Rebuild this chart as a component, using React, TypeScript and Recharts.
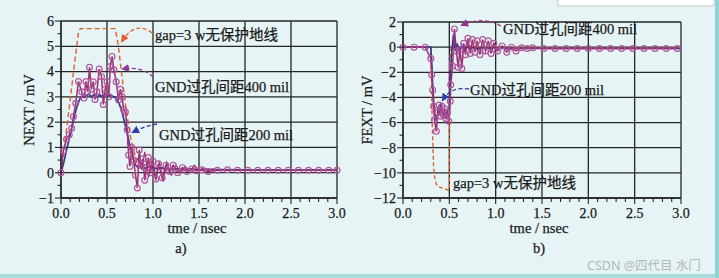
import React from 'react';
import { LineChart, Line, XAxis, YAxis, CartesianGrid } from 'recharts';

// ---------- NEXT (near-end crosstalk), mV vs ns ----------
const nextGapT = [0, 0.05, 0.1, 0.15, 0.19, 0.21, 0.59, 0.62, 0.66, 0.7, 0.75, 0.8, 0.83, 0.86, 0.9, 0.95, 1.0, 1.1, 1.3, 1.6, 2.0, 3.0];
const nextGapV = [0, 1.4, 2.9, 4.4, 5.55, 5.7, 5.7, 5.1, 3.9, 2.7, 1.5, 0.75, 0.25, 0.3, 0.35, 0.25, 0.2, 0.15, 0.12, 0.1, 0.1, 0.1];

const next200T = [0, 0.03, 0.06, 0.09, 0.12, 0.15, 0.18, 0.21, 0.24, 0.27, 0.3, 0.33, 0.36, 0.39, 0.42, 0.45, 0.48, 0.51, 0.54, 0.57, 0.6, 0.63, 0.66, 0.69, 0.72, 0.75, 0.78, 0.81, 0.84, 0.88, 0.92, 0.96, 1.0, 1.05, 1.1, 1.15, 1.2, 1.3, 1.4, 1.5, 1.7, 2.0, 2.5, 3.0];
const next200V = [0, 0.4, 0.9, 1.35, 1.8, 2.3, 2.7, 2.95, 3.05, 3.0, 3.12, 3.0, 3.1, 2.98, 3.08, 3.0, 3.1, 3.02, 3.08, 3.0, 2.95, 2.75, 2.45, 2.0, 1.55, 1.05, 0.6, 0.3, 0.2, 0.22, 0.18, 0.25, 0.2, 0.15, 0.2, 0.14, 0.17, 0.13, 0.14, 0.12, 0.12, 0.11, 0.1, 0.1];

const next400T = [0, 0.025, 0.06, 0.09, 0.115, 0.135, 0.16, 0.19, 0.225, 0.25, 0.27, 0.29, 0.31, 0.33, 0.35, 0.37, 0.39, 0.415, 0.44, 0.46, 0.48, 0.5, 0.52, 0.535, 0.555, 0.575, 0.6, 0.625, 0.645, 0.665, 0.68, 0.7, 0.72, 0.735, 0.75, 0.77, 0.79, 0.81, 0.83, 0.85, 0.87, 0.89, 0.91, 0.93, 0.95, 0.97, 1.0, 1.03, 1.06, 1.1, 1.14, 1.18, 1.22, 1.27, 1.32, 1.37, 1.42, 1.47, 1.53, 1.6, 1.7, 1.81, 1.92, 2.03, 2.14, 2.25, 2.36, 2.47, 2.58, 2.69, 2.8, 2.91, 3.0];
const next400V = [0, 0.86, 1.32, 1.5, 1.76, 2.22, 2.75, 3.61, 3.2, 2.95, 3.61, 3.2, 4.17, 3.3, 3.6, 2.9, 3.2, 4.1, 3.8, 2.7, 3.3, 3.6, 3.0, 4.2, 4.6, 4.07, 3.6, 2.88, 3.3, 3.0, 2.5, 2.4, 1.7, 0.7, 0.25, 1.0, 0.5, -0.1, -0.6, 0.9, 0.3, 0.55, -0.3, 0.2, 0.6, 0.0, 0.45, -0.25, 0.35, -0.2, 0.3, 0.05, 0.3, 0.0, 0.2, 0.05, 0.15, 0.08, 0.12, 0.05, 0.1, 0.12, 0.1, 0.1, 0.1, 0.1, 0.1, 0.1, 0.1, 0.1, 0.1, 0.1, 0.1];

const next400bT = [0.72, 0.76, 0.8, 0.84, 0.88, 0.91, 0.95, 0.99, 1.03, 1.07, 1.11, 1.15, 1.2, 1.25, 1.3, 1.35, 1.4, 1.45, 1.5, 1.55, 1.6, 1.65, 1.7, 1.8];
const next400bV = [1.2, 0.9, 0.3, 0.6, 0.1, 0.83, -0.2, 0.5, -0.3, 0.45, -0.35, 0.4, -0.1, 0.3, 0.0, 0.25, 0.05, 0.3, 0.08, 0.2, 0.1, 0.15, 0.1, 0.12];

// ---------- FEXT (far-end crosstalk), mV vs ns ----------
const fextGapT = [0, 0.3, 0.305, 0.315, 0.33, 0.345, 0.36, 0.38, 0.42, 0.46, 0.49, 0.5, 0.505, 0.52, 0.56, 0.6, 0.7, 0.8, 1.0, 1.5, 3.0];
const fextGapV = [0, 0, -1.5, -6, -9.5, -10.5, -10.9, -11.1, -11.2, -11.3, -11.4, -11.3, -1.0, 0.0, 0.2, -0.2, 0.1, 0, 0, -0.05, -0.05];

const fext200T = [0, 0.3, 0.31, 0.32, 0.335, 0.35, 0.365, 0.38, 0.395, 0.41, 0.425, 0.44, 0.455, 0.47, 0.485, 0.5, 0.51, 0.525, 0.545, 0.565, 0.585, 0.61, 0.635, 0.66, 0.69, 0.72, 0.76, 0.8, 0.85, 0.9, 1.0, 1.2, 1.5, 2.0, 3.0];
const fext200V = [0, 0, -1.2, -3.0, -4.8, -5.6, -5.9, -4.8, -5.4, -4.5, -5.3, -5.7, -5.0, -5.2, -5.0, -4.9, -2.5, -0.5, 1.0, -0.3, 0.3, -0.4, 0.15, -0.3, 0.1, -0.2, 0.0, -0.15, -0.05, -0.1, -0.05, -0.1, -0.1, -0.1, -0.1];

const fext400T = [0, 0.12, 0.24, 0.3, 0.31, 0.32, 0.33, 0.34, 0.36, 0.375, 0.39, 0.405, 0.42, 0.435, 0.45, 0.465, 0.48, 0.495, 0.51, 0.515, 0.535, 0.555, 0.575, 0.595, 0.615, 0.635, 0.655, 0.675, 0.7, 0.725, 0.75, 0.775, 0.8, 0.83, 0.86, 0.89, 0.92, 0.95, 0.98, 1.02, 1.07, 1.12, 1.17, 1.22, 1.28, 1.34, 1.4, 1.52, 1.64, 1.76, 1.88, 2.0, 2.12, 2.24, 2.36, 2.48, 2.6, 2.72, 2.84, 2.96];
const fext400V = [0, 0, 0, -0.9, -2.2, -3.4, -4.7, -5.8, -6.7, -5.2, -4.6, -5.5, -4.7, -5.4, -4.9, -5.7, -5.2, -5.9, -4.3, -3.0, -1.5, 1.45, -0.3, -1.6, -0.2, -1.7, 0.3, -0.6, 0.7, -0.5, 0.6, -0.4, 0.5, -0.6, 0.6, -0.3, 0.5, -0.5, 0.3, -0.3, 0.1, -0.4, 0.0, -0.3, -0.05, -0.1, -0.05, -0.1, -0.1, -0.1, -0.1, -0.1, -0.1, -0.1, -0.1, -0.1, -0.1, -0.1, -0.1, -0.1];

// ---------- axes ----------
const xMajorTicks = [0, 0.5, 1.0, 1.5, 2.0, 2.5, 3.0];
const xMinorTicks = Array.from({ length: 31 }, (_, i) => i / 10);
const nextYLabels = [-1, 0, 1, 2, 3, 4, 5, 6];
const nextYTicks = Array.from({ length: 15 }, (_, i) => -1 + i * 0.5);
const fextYLabels = [-12, -10, -8, -6, -4, -2, 0, 2];
const fextYTicks = Array.from({ length: 15 }, (_, i) => -12 + i);

const BG = '#e6f4f6';
const AXIS = '#262626';
const ORANGE = '#e0602c';
const BLUE = '#2c3a96';
const MAGENTA = '#9c2f72';
const CIRCLE = '#b0559a';
const SERIF = '"Liberation Serif", "Noto Sans CJK SC", serif';
const TEXT = '#1a1a1a';

const pts = (t: number[], v: number[]) => t.map((x, i) => ({ t: x, v: v[i] }));

const fmtNum = (n: number) => (n < 0 ? '\u2212' + Math.abs(n) : String(n));

const tickText = { fontFamily: SERIF, fontSize: 14, fill: TEXT, stroke: TEXT, strokeWidth: 0.25 } as const;

const XTick = (props: any) => {
  const { x, y, payload } = props;
  const val = payload.value as number;
  const major = xMajorTicks.some((m) => Math.abs(m - val) < 1e-6);
  return (
    <g>
      <line x1={x} y1={y} x2={x} y2={y + (major ? 6 : 4)} stroke={AXIS} strokeWidth={1.1} />
      {major && (
        <text x={x} y={y + 20} textAnchor="middle" {...tickText}>
          {val.toFixed(1)}
        </text>
      )}
    </g>
  );
};

const makeYTick = (labels: number[]) => (props: any) => {
  const { x, y, payload } = props;
  const val = payload.value as number;
  const major = labels.some((m) => Math.abs(m - val) < 1e-6);
  return (
    <g>
      <line x1={x} y1={y} x2={x - (major ? 6 : 3.5)} y2={y} stroke={AXIS} strokeWidth={1.1} />
      {major && (
        <text x={x - 7} y={y + 4.8} textAnchor="end" {...tickText}>
          {fmtNum(val)}
        </text>
      )}
    </g>
  );
};

const NextYTick = makeYTick(nextYLabels);
const FextYTick = makeYTick(fextYLabels);

const circleDot = { r: 2.9, stroke: CIRCLE, strokeWidth: 1.2, fill: 'none' };

function NextChart() {
  return (
    <LineChart width={360} height={278} margin={{ top: 21, right: 23, bottom: 0, left: 21 }}>
      <CartesianGrid
        stroke={AXIS}
        strokeWidth={1.3}
        strokeOpacity={1}
        verticalValues={xMajorTicks}
        horizontalValues={nextYLabels}
        fill="none"
      />
      <XAxis
        type="number"
        dataKey="t"
        domain={[0, 3]}
        ticks={xMinorTicks}
        interval={0}
        height={80}
        tickSize={0}
        tickMargin={0}
        tickLine={false}
        axisLine={{ stroke: AXIS, strokeWidth: 1.3 }}
        tick={<XTick />}
        allowDuplicatedCategory={false}
      />
      <YAxis
        type="number"
        domain={[-1, 6]}
        ticks={nextYTicks}
        interval={0}
        width={40}
        tickSize={0}
        tickMargin={0}
        tickLine={false}
        axisLine={{ stroke: AXIS, strokeWidth: 1.3 }}
        tick={<NextYTick />}
      />
      <Line data={pts(nextGapT, nextGapV)} dataKey="v" stroke={ORANGE} strokeWidth={1.4} strokeDasharray="5 3" dot={false} isAnimationActive={false} />
      <Line data={pts(next200T, next200V)} dataKey="v" stroke={BLUE} strokeWidth={1.7} dot={false} isAnimationActive={false} />
      <Line data={pts(next400bT, next400bV)} dataKey="v" stroke={MAGENTA} strokeWidth={1.2} dot={false} isAnimationActive={false} />
      <Line data={pts(next400T, next400V)} dataKey="v" stroke={MAGENTA} strokeWidth={1.5} dot={circleDot} isAnimationActive={false} />
    </LineChart>
  );
}

function FextChart() {
  return (
    <LineChart width={359} height={278} margin={{ top: 22, right: 38, bottom: 0, left: 3 }}>
      <CartesianGrid
        stroke={AXIS}
        strokeWidth={1.3}
        strokeOpacity={1}
        verticalValues={xMajorTicks}
        horizontalValues={fextYLabels}
        fill="none"
      />
      <XAxis
        type="number"
        dataKey="t"
        domain={[0, 3]}
        ticks={xMinorTicks}
        interval={0}
        height={80}
        tickSize={0}
        tickMargin={0}
        tickLine={false}
        axisLine={{ stroke: AXIS, strokeWidth: 1.3 }}
        tick={<XTick />}
        allowDuplicatedCategory={false}
      />
      <YAxis
        type="number"
        domain={[-12, 2]}
        ticks={fextYTicks}
        interval={0}
        width={40}
        tickSize={0}
        tickMargin={0}
        tickLine={false}
        axisLine={{ stroke: AXIS, strokeWidth: 1.3 }}
        tick={<FextYTick />}
      />
      <Line data={pts(fextGapT, fextGapV)} dataKey="v" stroke={ORANGE} strokeWidth={1.4} strokeDasharray="4 2.5" dot={false} isAnimationActive={false} />
      <Line data={pts(fext200T, fext200V)} dataKey="v" stroke={BLUE} strokeWidth={1.7} dot={false} isAnimationActive={false} />
      <Line data={pts(fext400T, fext400V)} dataKey="v" stroke={MAGENTA} strokeWidth={1.5} dot={circleDot} isAnimationActive={false} />
    </LineChart>
  );
}

const labelStyle = { fontFamily: SERIF, fontSize: 14.5, fill: TEXT, stroke: TEXT, strokeWidth: 0.25 } as const;

function Annotations() {
  return (
    <svg width={719} height={278} style={{ position: 'absolute', left: 0, top: 0, pointerEvents: 'none' }}>
      <defs>
        <marker id="headOrange" markerWidth="8" markerHeight="8" refX="6" refY="4" orient="auto" markerUnits="userSpaceOnUse">
          <path d="M0,0 L8,4 L0,8 Z" fill={ORANGE} />
        </marker>
        <marker id="headPurple" markerWidth="8" markerHeight="8" refX="6" refY="4" orient="auto" markerUnits="userSpaceOnUse">
          <path d="M0,0 L8,4 L0,8 Z" fill="#8a3a96" />
        </marker>
        <marker id="headBlue" markerWidth="8" markerHeight="8" refX="6" refY="4" orient="auto" markerUnits="userSpaceOnUse">
          <path d="M0,0 L8,4 L0,8 Z" fill="#3040a8" />
        </marker>
      </defs>

      {/* NEXT panel callouts */}
      <path d="M152 33 Q 136 20 122 41" fill="none" stroke={ORANGE} strokeWidth={1.3} strokeDasharray="4 2.5" markerEnd="url(#headOrange)" />
      <text x={155} y={40} {...labelStyle}>gap=3 w无保护地线</text>
      <path d="M153 77 Q 142 66 123 69" fill="none" stroke="#8a3a96" strokeWidth={1.3} strokeDasharray="4 2.5" markerEnd="url(#headPurple)" />
      <text x={155} y={92} {...labelStyle}>GND过孔间距400 mil</text>
      <path d="M157 124 Q 145 126 133 132" fill="none" stroke="#3040a8" strokeWidth={1.3} strokeDasharray="4 2.5" markerEnd="url(#headBlue)" />
      <text x={159} y={140} {...labelStyle}>GND过孔间距200 mil</text>

      <text x={34} y={110} transform="rotate(-90 34 110)" textAnchor="middle" {...labelStyle}>NEXT / mV</text>
      <text x={197} y={233} textAnchor="middle" {...labelStyle}>tme / nsec</text>
      <text x={181} y={253} textAnchor="middle" {...labelStyle}>a)</text>

      {/* FEXT panel callouts */}
      <path d="M501 26 Q 485 16 462 25" fill="none" stroke="#a0307a" strokeWidth={1.3} strokeDasharray="4 2.5" markerEnd="url(#headPurple)" />
      <text x={503} y={34} {...labelStyle}>GND过孔间距400 mil</text>
      <path d="M469 89 Q 451 86 443 100" fill="none" stroke="#3040a8" strokeWidth={1.3} strokeDasharray="4 2.5" markerEnd="url(#headBlue)" />
      <text x={470} y={95} {...labelStyle}>GND过孔间距200 mil</text>
      <text x={453} y={188} {...labelStyle}>gap=3 w无保护地线</text>

      <text x={372} y={110} transform="rotate(-90 372 110)" textAnchor="middle" {...labelStyle}>FEXT / mV</text>
      <text x={539} y={233} textAnchor="middle" {...labelStyle}>tme / nsec</text>
      <text x={539} y={253} textAnchor="middle" {...labelStyle}>b)</text>

      <text x={587} y={270} fontFamily='"Noto Sans", "Noto Sans CJK SC", sans-serif' fontSize={12.5} fill="#b4b8ba">CSDN @四代目 水门</text>

      {/* page framing */}
      <rect x={558} y={-1} width={156} height={7} fill="#ffffff" stroke="#c4c8ca" strokeWidth={1} />
      <rect x={0} y={274} width={719} height={4} fill="#a8dcdc" />
      <rect x={715} y={0} width={4} height={278} fill="#8fd3d3" />
    </svg>
  );
}

export default function App() {
  return (
    <div style={{ position: 'absolute', left: 0, top: 0, width: 719, height: 278, background: BG, overflow: 'hidden' }}>
      <div style={{ position: 'absolute', left: 0, top: 0 }}>
        <NextChart />
      </div>
      <div style={{ position: 'absolute', left: 360, top: 0 }}>
        <FextChart />
      </div>
      <Annotations />
    </div>
  );
}
